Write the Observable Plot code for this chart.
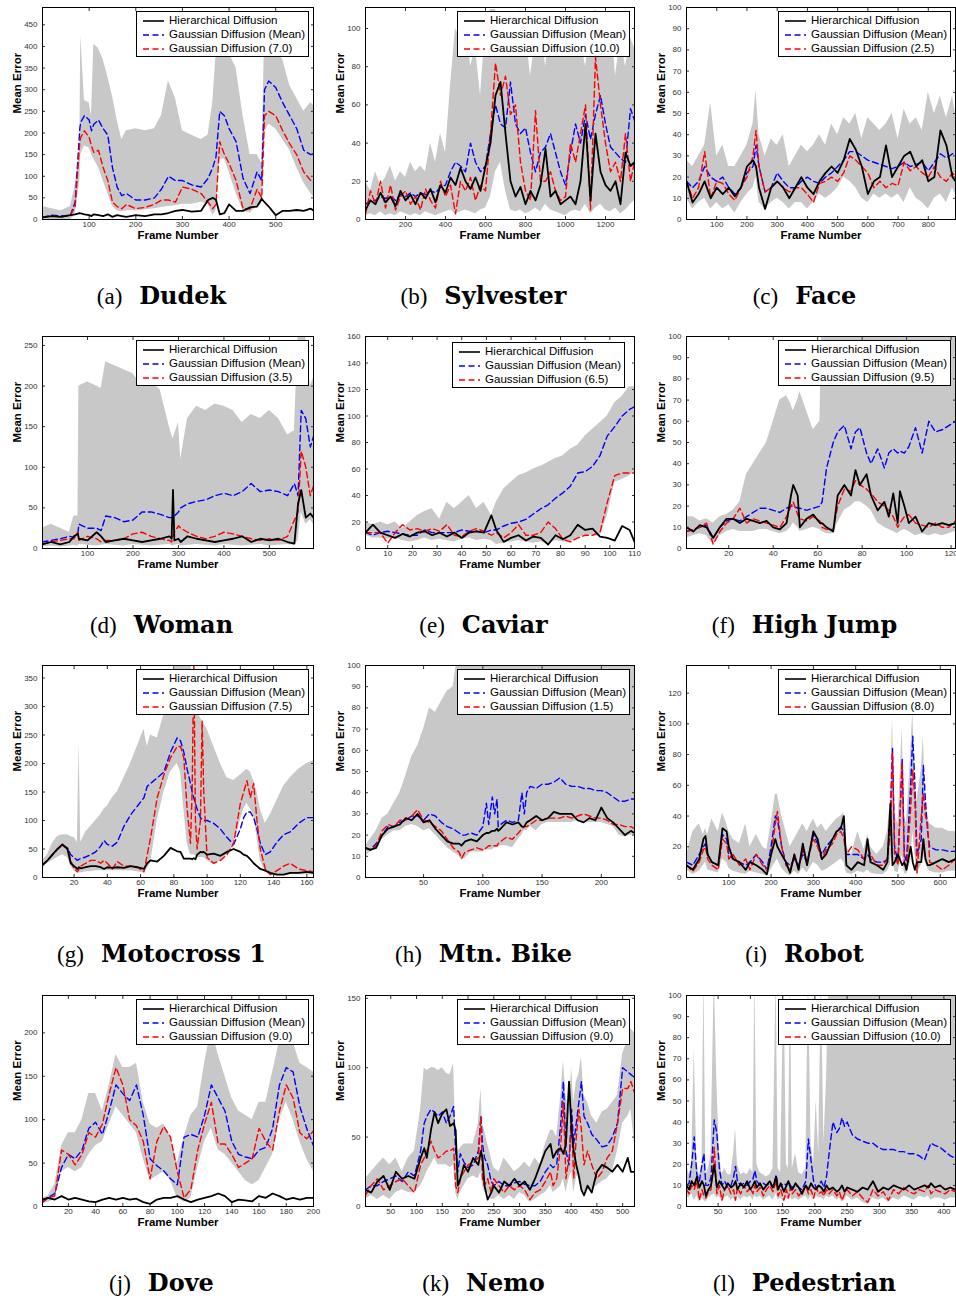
<!DOCTYPE html>
<html><head><meta charset="utf-8">
<script src="https://cdn.jsdelivr.net/npm/d3@7"></script>
<script src="https://cdn.jsdelivr.net/npm/@observablehq/plot@0.6"></script>
<style>
html,body{margin:0;padding:0;background:#fff;overflow:hidden;}
#root{position:relative;width:956px;height:1301px;overflow:hidden;background:#fff;}
.pan{position:absolute;}
.leg{position:absolute;box-sizing:border-box;border:1px solid #000;background:#fff;padding:1px 3px 1px 6px;font-family:"Liberation Sans",Arial,sans-serif;font-size:11.5px;line-height:14px;color:#000;white-space:nowrap;}
.leg svg{vertical-align:middle;margin-right:5px;}
.cap{position:absolute;transform:translate(-50%,-50%);white-space:nowrap;color:#000;}
.cap span{font-family:"Liberation Serif",serif;font-size:23px;}
.cap b{font-family:"DejaVu Serif",serif;font-size:24px;margin-left:17px;}
</style></head>
<body><div id="root"></div>
<script>
// ---------- (a) Dudek ----------
const dudekFrames=[0,20,40,60,70,80,82,90,100,105,110,120,130,140,150,160,170,180,200,220,240,255,270,285,300,320,340,355,365,372,380,390,400,415,430,445,460,470,476,485,500,515,530,545,560,575,590,598];
const dudekHigh=[30,25,20,30,80,160,425,275,270,240,405,395,370,330,285,230,185,205,210,205,210,240,320,280,205,195,185,195,270,380,400,395,385,350,240,150,150,130,410,400,390,370,310,280,250,270,255,240];
const dudekLow=[0,0,0,0,10,90,150,170,165,150,140,120,90,60,30,20,18,20,20,22,25,28,30,32,35,35,40,35,10,20,140,140,110,60,20,15,30,35,200,220,210,185,160,120,85,60,40,30];
const dudekHier=[5,8,6,10,12,15,14,12,10,8,12,10,8,12,6,10,8,6,10,8,12,12,15,20,22,18,20,45,50,45,12,15,35,20,20,28,30,48,40,30,10,20,20,22,20,25,15,10];
const dudekMean=[5,10,8,10,40,210,225,240,230,205,220,230,210,195,120,75,55,60,45,45,50,70,100,90,90,80,75,95,120,145,250,240,210,180,95,60,110,90,300,320,305,270,240,210,160,150,155,120];
const dudekBest=[5,8,6,10,30,180,190,205,190,170,155,160,120,90,40,30,25,35,25,28,35,45,45,40,75,70,60,40,25,35,180,150,130,90,25,25,70,50,240,250,240,205,175,150,110,90,80,40];
const dudekXTicks=[100,200,300,400,500];
const dudekYTicks=[0,50,100,150,200,250,300,350,400,450];

// ---------- (b) Sylvester ----------
const sylvesterFrames=[0,25,50,75,100,125,150,175,200,225,250,275,300,325,350,375,400,425,450,475,500,525,550,575,600,625,650,675,700,725,750,775,800,825,850,875,900,925,950,975,1000,1025,1050,1075,1100,1125,1150,1175,1200,1225,1250,1275,1300,1325,1345];
const sylvesterHier=[5,10,8,14,9,12,7,15,10,13,8,14,11,16,9,18,14,22,18,27,20,16,22,15,28,40,65,72,45,20,12,17,8,15,10,18,37,12,15,8,10,12,8,20,50,10,45,25,18,15,20,8,35,28,30];
const sylvesterMean=[8,10,10,12,11,12,10,13,12,14,12,14,13,15,14,17,18,25,30,28,25,40,30,25,28,45,60,50,48,72,50,45,48,35,25,35,38,45,35,25,18,35,50,40,55,42,55,65,50,38,35,32,30,58,52];
const sylvesterBest=[3,15,8,20,6,18,5,12,15,8,12,5,16,10,6,20,12,18,3,20,15,22,10,18,15,45,82,65,75,55,60,30,15,10,57,20,20,25,15,10,12,40,30,45,60,5,85,60,40,25,30,20,45,20,30];
const sylvesterHigh=[20,15,25,18,22,28,20,25,22,30,25,28,25,40,30,45,35,70,100,95,110,80,90,65,100,110,110,100,85,105,95,110,100,75,95,110,80,100,90,110,85,100,110,95,80,100,110,105,90,110,75,95,80,95,90];
const sylvesterLow=[2,3,2,4,2,3,2,4,3,2,3,2,4,3,2,3,4,5,3,4,5,4,3,5,6,12,25,30,15,5,4,5,3,4,6,4,8,5,4,3,2,4,5,4,8,3,6,8,5,4,6,3,5,8,10];
const sylvesterXTicks=[200,400,600,800,1000,1200];
const sylvesterYTicks=[0,20,40,60,80,100];

// ---------- (c) Face ----------
const faceFrames=[0,20,40,60,80,100,120,140,160,180,200,220,230,240,260,280,300,320,340,360,380,400,420,440,460,480,500,520,540,560,580,600,620,640,660,680,700,720,740,760,780,800,820,840,860,880,890];
const faceHier=[18,8,12,18,10,15,12,15,11,15,25,28,25,15,5,15,18,15,10,15,20,15,12,18,22,25,22,28,38,33,25,12,18,20,35,20,25,30,32,25,28,18,20,42,35,20,18];
const faceMean=[18,15,18,25,20,18,20,15,12,15,22,25,35,25,13,15,22,18,15,15,18,20,18,17,20,22,25,28,32,32,30,28,27,26,25,24,25,27,25,26,27,23,27,31,29,31,31];
const faceBest=[18,10,15,32,10,18,17,12,9,15,20,30,42,25,13,15,18,15,13,15,15,12,8,17,18,20,18,22,30,28,25,22,15,18,15,17,16,27,23,25,22,20,25,20,18,22,20];
const faceHigh=[28,25,30,35,55,30,35,25,25,30,35,45,61,40,30,38,35,40,25,30,35,32,35,40,35,45,40,48,45,50,38,48,45,42,45,50,38,52,45,48,42,60,50,58,48,58,50];
const faceLow=[10,5,8,10,5,8,5,7,3,8,12,15,20,8,5,8,10,8,5,8,8,5,8,12,10,12,15,20,18,15,10,8,12,10,12,10,12,8,15,10,8,5,10,12,8,15,12];
const faceXTicks=[100,200,300,400,500,600,700,800];
const faceYTicks=[0,10,20,30,40,50,60,70,80,90,100];

// ---------- (d) Woman ----------
const womanFrames=[0,20,40,60,70,79,81,100,120,130,140,160,180,200,220,240,260,280,285,288,291,300,305,320,340,360,380,400,420,440,460,480,500,520,540,555,563,570,580,590,597];
const womanHigh=[25,30,25,20,40,40,200,205,200,197,230,225,220,215,200,205,195,150,140,135,140,155,110,160,175,170,178,175,170,155,165,160,170,160,140,145,260,260,260,200,210];
const womanLow=[2,3,2,3,4,3,5,4,3,4,5,4,3,5,4,3,4,5,4,3,4,5,3,4,5,4,3,5,4,3,4,5,3,4,5,4,10,45,30,35,30];
const womanHier=[5,8,5,8,15,18,12,10,20,15,8,10,12,10,8,10,12,15,12,72,10,12,8,15,12,10,8,10,12,15,8,12,10,12,8,6,55,72,38,43,38];
const womanMean=[8,10,12,15,14,20,30,25,25,22,40,38,33,35,45,45,42,38,38,40,40,45,50,55,58,60,65,68,65,70,80,70,72,70,65,80,65,170,160,125,138];
const womanBest=[5,8,10,12,12,20,10,15,12,8,10,10,12,18,20,15,12,10,8,15,20,28,25,20,15,12,15,20,18,15,12,10,12,10,15,35,45,120,100,65,77];
const womanXTicks=[100,200,300,400,500];
const womanYTicks=[0,50,100,150,200,250];

// ---------- (e) Caviar ----------
const caviarFrames=[1,4,7,10,13,16,19,22,25,28,31,34,37,40,43,46,49,52,54,57,60,63,66,69,72,75,78,81,84,87,90,93,96,99,102,105,108,110];
const caviarHier=[12,18,12,10,8,11,9,12,13,10,12,9,12,8,12,13,12,25,14,5,8,10,6,9,8,3,10,7,10,18,14,15,9,8,6,17,14,5];
const caviarMean=[12,10,12,13,12,11,10,10,14,12,12,12,12,14,13,13,12,14,14,17,19,20,22,26,30,33,38,42,47,57,58,62,70,85,92,100,105,107];
const caviarBest=[12,12,12,4,12,18,14,15,13,15,13,18,10,9,13,15,13,10,12,8,12,18,10,10,12,20,15,7,5,8,10,10,12,35,55,57,57,57];
const caviarHigh=[20,18,20,18,20,15,20,25,28,30,22,35,30,35,40,30,35,25,35,45,50,55,57,60,62,65,68,70,75,78,85,90,95,100,110,115,122,122];
const caviarLow=[10,8,8,7,8,6,5,6,8,6,7,6,5,7,8,6,7,6,3,4,5,6,5,4,5,3,6,5,5,8,10,10,9,25,50,52,55,58];
const caviarXTicks=[10,20,30,40,50,60,70,80,90,100,110];
const caviarYTicks=[0,20,40,60,80,100,120,140,160];

// ---------- (f) High Jump ----------
const highJumpFrames=[1,4,7,10,13,16,19,22,25,28,31,34,37,40,43,46,48,49,51,52,55,58,61,62,64,67,69,72,75,77,79,82,84,87,90,92,94,96,97,99,101,104,107,110,113,116,119,122];
const highJumpHier=[10,8,11,10,5,10,14,14,12,14,13,12,13,10,9,12,25,30,25,10,14,16,12,12,10,8,25,30,25,37,30,35,25,18,22,15,26,12,27,20,12,15,8,12,11,12,11,12];
const highJumpMean=[8,9,10,11,5,10,13,14,13,15,17,19,19,18,17,19,20,20,19,19,18,19,20,22,38,50,55,58,47,55,57,45,40,47,38,45,47,45,46,45,48,57,45,60,55,56,58,60];
const highJumpBest=[8,9,10,12,2,8,12,14,19,12,14,13,12,11,10,15,20,22,16,14,13,15,13,10,9,9,20,28,27,32,30,28,26,22,20,18,15,10,12,15,16,12,11,10,12,10,10,13];
const highJumpHigh=[15,15,13,14,12,15,16,18,22,35,40,45,50,60,70,72,68,65,70,74,65,56,60,110,110,110,110,110,110,110,110,110,110,110,110,110,110,110,110,110,110,110,110,110,110,110,110,110];
const highJumpLow=[5,6,7,6,2,6,8,9,8,8,8,9,9,8,7,8,10,12,10,8,9,10,9,8,7,7,12,18,20,22,22,20,18,12,10,9,8,7,8,9,8,6,7,6,7,6,7,8];
const highJumpXTicks=[20,40,60,80,100,120];
const highJumpYTicks=[0,10,20,30,40,50,60,70,80,90,100];

// ---------- (g) Motocross 1 ----------
const motoFrames=[1,4,7,10,13,16,18,20,22,23,24,27,30,33,36,38,40,43,46,50,54,58,62,64,66,70,74,78,82,84,86,88,90,91,92,93,94,96,97,98,100,104,108,112,116,120,122,124,126,128,130,132,135,138,142,146,150,155,160,164];
const motoHier=[22,30,40,50,58,50,25,20,15,18,16,18,20,20,18,15,18,17,18,17,20,18,15,25,30,28,38,52,46,45,33,33,33,32,34,32,40,45,44,45,40,42,38,45,50,45,40,38,32,25,20,15,12,8,5,5,8,8,10,8];
const motoMean=[22,30,40,50,57,52,40,35,30,32,33,36,40,45,55,65,58,55,62,90,110,125,140,160,165,175,185,220,245,240,220,190,165,150,140,130,120,105,102,100,100,95,85,70,58,85,105,115,115,105,85,60,40,45,62,75,80,95,105,105];
const motoBest=[22,30,40,50,55,52,30,15,10,15,20,25,30,30,25,30,25,15,28,20,20,18,10,40,70,140,180,210,230,230,210,120,60,150,380,100,50,100,275,150,35,25,30,40,60,130,150,170,140,165,100,50,15,5,12,20,25,15,12,10];
const motoHigh=[30,40,60,72,75,75,72,70,62,235,62,80,90,100,110,120,125,140,150,175,200,230,260,230,250,245,285,330,380,380,380,380,380,350,330,300,290,280,275,270,260,230,200,175,170,180,185,190,185,170,150,120,95,110,135,160,175,190,200,205];
const motoLow=[18,25,30,35,40,35,20,12,8,8,8,10,10,12,12,12,12,12,12,12,12,10,8,15,25,100,150,185,200,185,120,60,40,40,40,38,35,35,35,35,30,22,30,40,55,100,120,130,120,110,70,30,10,4,4,5,5,5,5,5];
const motoXTicks=[20,40,60,80,100,120,140,160];
const motoYTicks=[0,50,100,150,200,250,300,350];

// ---------- (h) Mtn. Bike ----------
const bikeFrames=[1,5,10,15,20,25,30,35,40,45,50,55,60,65,70,75,80,82,85,90,95,100,103,105,108,110,112,113,115,120,125,130,133,135,137,140,145,150,155,160,165,170,175,180,185,190,195,200,205,210,215,220,225,228];
const bikeHier=[14,13,14,20,23,24,25,28,27,30,26,27,23,20,17,16,16,15,17,18,17,20,21,21,22,22,23,22,23,26,25,26,24,24,26,27,29,27,28,31,30,30,30,27,26,28,27,33,28,26,23,20,22,21];
const bikeMean=[14,13,16,20,24,24,26,27,29,29,27,30,29,26,24,23,21,20,20,21,20,24,35,25,38,30,37,24,25,27,26,27,40,30,40,43,42,44,44,45,47,44,43,43,42,42,41,41,40,38,36,36,37,37];
const bikeBest=[14,13,15,22,25,24,27,27,29,32,27,26,24,22,18,14,12,9,12,13,14,13,14,15,15,15,15,16,17,19,18,21,23,24,24,25,27,27,28,28,28,29,28,29,30,29,28,28,27,25,25,24,24,23];
const bikeHigh=[15,18,22,28,30,35,40,48,57,62,70,80,78,83,88,90,110,110,110,110,110,110,110,110,110,110,110,110,110,110,110,110,110,110,110,110,110,110,110,110,110,110,110,110,110,110,110,110,110,110,110,110,110,110];
const bikeLow=[10,12,14,18,20,22,22,24,25,24,22,23,20,17,14,12,10,8,9,12,12,12,13,13,13,14,14,14,15,15,14,18,20,22,22,24,22,25,26,26,26,26,26,27,26,26,26,26,25,24,20,19,20,20];
const bikeXTicks=[50,100,150,200];
const bikeYTicks=[0,10,20,30,40,50,60,70,80,90,100];

// ---------- (i) Robot ----------
const robotFrames=[0,15,30,40,45,50,60,75,85,95,100,110,125,140,150,165,180,190,200,210,215,225,235,245,255,265,275,285,300,310,320,330,345,355,365,372,378,390,405,420,428,435,450,465,475,482,487,492,500,510,515,520,530,535,540,545,555,560,565,570,575,590,605,620,636];
const robotHier=[8,5,12,25,27,15,10,8,32,30,20,12,10,5,10,8,5,2,15,25,20,15,10,3,15,5,22,8,30,25,12,15,25,30,32,40,8,5,10,8,25,10,8,5,10,48,8,10,15,8,10,5,20,10,5,10,10,25,12,8,8,10,12,10,12];
const robotMean=[10,8,15,20,22,15,10,8,28,25,15,12,10,8,10,15,10,5,20,40,38,20,10,8,12,8,15,10,28,22,15,20,25,30,33,30,15,15,15,12,15,12,10,10,12,40,84,20,10,77,15,10,60,92,60,15,25,73,50,30,20,18,18,17,17];
const robotBest=[8,4,10,18,20,12,8,5,25,22,12,15,8,12,5,15,8,5,15,35,43,20,8,5,15,5,18,10,25,20,12,18,22,28,30,25,15,20,18,12,20,15,8,8,12,30,82,15,8,75,10,5,45,70,50,3,40,55,40,35,10,8,5,8,12];
const robotHigh=[15,30,35,28,32,28,38,30,42,35,30,25,22,35,20,28,20,18,35,54,54,40,30,20,25,30,35,30,38,32,35,30,35,38,40,42,20,15,30,18,28,20,15,20,30,50,105,40,35,97,40,35,80,110,60,50,70,92,50,40,35,32,32,30,30];
const robotLow=[5,2,4,8,10,5,4,3,12,10,6,4,3,2,4,3,2,1,5,10,12,6,3,1,4,2,6,3,10,8,4,5,8,10,12,10,3,2,4,3,5,3,2,2,4,8,20,4,3,15,3,2,10,30,15,2,8,15,10,6,4,3,3,4,4];
const robotXTicks=[100,200,300,400,500,600];
const robotYTicks=[0,20,40,60,80,100,120];

// ---------- (j) Dove ----------
const doveFrames=[1,5,10,15,20,25,30,35,40,45,50,55,60,65,70,75,80,85,90,95,100,105,110,115,120,125,130,135,140,145,150,155,160,165,170,175,180,185,190,195,200];
const doveHier=[8,10,8,12,8,10,8,6,5,8,10,8,10,8,9,5,3,8,10,10,12,8,5,8,10,12,15,12,5,8,7,6,12,10,15,12,8,10,8,10,10];
const doveMean=[5,10,15,45,60,55,65,90,97,83,110,140,130,122,140,105,55,47,41,32,25,80,83,80,105,140,125,110,75,60,57,55,65,68,90,140,160,155,115,90,70];
const doveBest=[5,10,12,65,60,48,60,85,80,95,130,160,140,100,93,75,32,75,92,80,40,10,20,65,95,120,72,72,60,45,50,55,90,75,65,110,140,125,85,78,87];
const doveHigh=[10,12,25,70,85,85,100,130,130,110,140,175,160,160,165,120,95,90,95,80,50,80,105,115,165,205,175,150,125,110,105,100,120,120,155,190,215,190,165,160,155];
const doveLow=[3,5,8,40,45,40,45,60,70,75,95,115,105,95,85,55,30,35,40,30,10,5,10,45,75,90,65,60,50,40,30,25,30,45,60,100,120,100,75,55,40];
const doveXTicks=[20,40,60,80,100,120,140,160,180,200];
const doveYTicks=[0,50,100,150,200];

// ---------- (k) Nemo ----------
const nemoFrames=[1,12,24,36,48,60,72,84,96,108,115,120,128,135,142,150,158,165,172,176,180,185,192,200,210,220,225,228,232,238,245,250,260,270,280,290,300,310,320,330,340,350,360,365,372,380,385,390,396,401,405,410,415,420,425,432,440,450,460,470,480,490,500,510,516,523];
const nemoHier=[12,10,18,22,12,25,20,22,20,35,42,35,55,68,60,67,70,58,60,55,15,20,30,25,35,30,40,35,15,5,10,15,10,18,15,20,15,18,12,20,30,40,45,35,40,42,38,45,90,55,40,30,22,12,8,15,10,25,30,28,25,30,25,35,25,25];
const nemoMean=[12,15,15,18,20,22,18,25,22,40,60,65,70,68,65,68,60,65,72,40,25,38,32,28,30,40,65,45,35,30,18,15,18,15,15,17,18,16,15,15,18,25,30,28,30,60,90,40,30,70,45,60,75,90,65,60,52,48,43,44,50,60,100,97,95,93];
const nemoBest=[8,15,20,12,15,18,20,15,10,30,35,40,47,40,35,37,40,40,42,15,10,20,25,30,32,35,65,20,15,20,10,20,15,10,15,12,15,12,5,10,12,18,25,15,20,45,75,20,35,60,20,50,70,55,30,40,30,20,25,35,40,60,85,85,90,82];
const nemoHigh=[20,25,30,35,30,35,25,35,40,70,100,98,100,100,98,100,96,95,103,50,40,42,45,45,45,60,85,60,55,45,35,28,25,35,30,25,28,32,28,35,30,45,55,55,50,80,105,80,70,100,75,90,95,108,80,75,65,60,68,70,75,80,110,120,128,125];
const nemoLow=[5,8,5,8,5,10,12,10,10,15,20,25,30,35,30,30,30,28,30,10,5,10,15,20,22,20,25,15,10,10,5,5,8,5,8,5,10,8,3,5,8,10,15,10,12,15,20,10,20,25,10,20,25,15,10,12,12,15,18,20,25,40,60,65,70,45];
const nemoXTicks=[50,100,150,200,250,300,350,400,450,500];
const nemoYTicks=[0,50,100,150];

// ---------- (l) Pedestrian ----------
const pedFrames=[1,5,9,13,17,21,25,28,31,35,39,44,48,52,56,60,65,70,74,77,80,85,90,95,100,104,107,110,115,120,125,130,135,140,143,147,152,156,159,162,165,170,175,180,186,190,194,198,202,206,210,214,218,222,228,234,238,242,246,250,258,266,274,282,290,298,306,314,322,330,338,346,354,362,370,376,380,386,394,402,410,418];
const pedHier=[10,8,12,10,14,9,12,10,5,8,10,20,9,12,10,8,11,9,10,12,8,11,9,12,8,10,12,9,11,8,10,12,9,14,8,11,7,10,12,9,8,11,9,6,10,8,11,9,8,10,9,7,10,8,9,7,8,10,7,9,8,7,9,8,12,7,9,8,10,9,8,10,8,9,10,9,11,9,10,8,9,8];
const pedMean=[10,11,20,33,15,12,20,25,10,10,14,41,35,18,10,12,9,10,14,19,12,10,11,10,12,13,17,12,10,11,10,11,9,15,9,10,11,10,12,10,9,10,9,8,12,32,22,12,9,10,12,9,14,25,40,35,37,42,38,40,34,32,31,30,30,28,27,27,27,26,26,25,25,24,22,27,30,29,28,26,24,23];
const pedBest=[8,6,10,8,12,3,8,5,4,7,8,28,6,10,3,8,10,6,8,3,9,6,10,7,9,6,10,7,9,5,8,10,7,12,5,8,3,8,4,9,6,8,5,7,10,6,8,4,9,6,7,5,8,6,8,5,7,3,6,8,5,7,4,2,8,5,7,3,8,6,9,7,6,8,7,10,6,8,7,6,8,7];
const pedHigh=[20,15,20,75,20,15,18,110,15,18,25,110,60,25,15,18,15,15,25,37,20,15,16,15,18,16,110,20,16,15,14,15,18,110,18,16,110,20,18,110,18,25,16,15,18,110,30,20,50,25,110,30,60,110,110,110,110,110,110,110,110,110,110,110,110,110,110,110,110,110,110,110,110,110,110,110,110,110,110,110,110,110];
const pedLow=[5,4,6,3,5,2,4,3,2,4,5,6,4,5,2,4,5,3,4,2,5,3,5,4,5,3,5,4,5,3,4,5,3,6,3,4,2,4,3,5,3,4,3,4,5,3,5,3,5,4,4,3,5,4,5,3,4,2,3,5,3,4,2,1,4,3,4,2,4,3,5,4,3,5,4,5,3,4,4,3,4,4];
const pedXTicks=[50,100,150,200,250,300,350,400];
const pedYTicks=[0,10,20,30,40,50,60,70,80,90,100];

const panels=[
 {key:"a",name:"Dudek",param:"7.0",frames:dudekFrames,hier:dudekHier,mean:dudekMean,best:dudekBest,low:dudekLow,high:dudekHigh,xDomain:[0,581],yDomain:[0,490],xTicks:dudekXTicks,yTicks:dudekYTicks},
 {key:"b",name:"Sylvester",param:"10.0",frames:sylvesterFrames,hier:sylvesterHier,mean:sylvesterMean,best:sylvesterBest,low:sylvesterLow,high:sylvesterHigh,xDomain:[0,1345],yDomain:[0,111],xTicks:sylvesterXTicks,yTicks:sylvesterYTicks},
 {key:"c",name:"Face",param:"2.5",frames:faceFrames,hier:faceHier,mean:faceMean,best:faceBest,low:faceLow,high:faceHigh,xDomain:[0,890],yDomain:[0,100],xTicks:faceXTicks,yTicks:faceYTicks},
 {key:"d",name:"Woman",param:"3.5",frames:womanFrames,hier:womanHier,mean:womanMean,best:womanBest,low:womanLow,high:womanHigh,xDomain:[1,597],yDomain:[0,261],xTicks:womanXTicks,yTicks:womanYTicks},
 {key:"e",name:"Caviar",param:"6.5",frames:caviarFrames,hier:caviarHier,mean:caviarMean,best:caviarBest,low:caviarLow,high:caviarHigh,xDomain:[1,110],yDomain:[0,160],xTicks:caviarXTicks,yTicks:caviarYTicks,legInset:[6,9]},
 {key:"f",name:"High Jump",param:"9.5",frames:highJumpFrames,hier:highJumpHier,mean:highJumpMean,best:highJumpBest,low:highJumpLow,high:highJumpHigh,xDomain:[1,122],yDomain:[0,100],xTicks:highJumpXTicks,yTicks:highJumpYTicks},
 {key:"g",name:"Motocross 1",param:"7.5",frames:motoFrames,hier:motoHier,mean:motoMean,best:motoBest,low:motoLow,high:motoHigh,xDomain:[1,164],yDomain:[0,372],xTicks:motoXTicks,yTicks:motoYTicks},
 {key:"h",name:"Mtn. Bike",param:"1.5",frames:bikeFrames,hier:bikeHier,mean:bikeMean,best:bikeBest,low:bikeLow,high:bikeHigh,xDomain:[1,228],yDomain:[0,100],xTicks:bikeXTicks,yTicks:bikeYTicks},
 {key:"i",name:"Robot",param:"8.0",frames:robotFrames,hier:robotHier,mean:robotMean,best:robotBest,low:robotLow,high:robotHigh,xDomain:[0,636],yDomain:[0,138],xTicks:robotXTicks,yTicks:robotYTicks},
 {key:"j",name:"Dove",param:"9.0",frames:doveFrames,hier:doveHier,mean:doveMean,best:doveBest,low:doveLow,high:doveHigh,xDomain:[1,200],yDomain:[0,243],xTicks:doveXTicks,yTicks:doveYTicks},
 {key:"k",name:"Nemo",param:"9.0",frames:nemoFrames,hier:nemoHier,mean:nemoMean,best:nemoBest,low:nemoLow,high:nemoHigh,xDomain:[1,523],yDomain:[0,152],xTicks:nemoXTicks,yTicks:nemoYTicks},
 {key:"l",name:"Pedestrian",param:"10.0",frames:pedFrames,hier:pedHier,mean:pedMean,best:pedBest,low:pedLow,high:pedHigh,xDomain:[1,418],yDomain:[0,100],xTicks:pedXTicks,yTicks:pedYTicks}
];

const cols=[[42,313],[365,634],[686,955]];
const rows=[[7,219],[336,548],[665,877],[995,1206]];
const ML=45,MR=1,MT=4,MB=30;
const GREY="#c8c8c8",BLUE="#0000ff",RED="#ff0000",DASH="6,3.5";
const root=document.getElementById("root");

function sample(color,dash,w){
  return `<svg width="21" height="6"><line x1="0" y1="3" x2="21" y2="3" stroke="${color}" stroke-width="${w}" ${dash?`stroke-dasharray="${dash}"`:""}/></svg>`;
}

panels.forEach((p,i)=>{
  const [fl,fr]=cols[i%3],[ft,fb]=rows[Math.floor(i/3)];
  const data=p.frames.map((f,k)=>({f,hi:p.high[k],lo:p.low[k],h:p.hier[k],m:p.mean[k],b:p.best[k]}));
  const svg=Plot.plot({
    width:fr-fl+ML+MR,height:fb-ft+MT+MB,
    marginLeft:ML,marginRight:MR,marginTop:MT,marginBottom:MB,
    x:{domain:p.xDomain},y:{domain:p.yDomain},
    style:{fontFamily:"'Liberation Sans',Arial,sans-serif",fontSize:"8px",color:"#333",background:"transparent",overflow:"visible"},
    marks:[
      Plot.areaY(data,{x:"f",y1:"lo",y2:"hi",fill:GREY,clip:true}),
      Plot.lineY(data,{x:"f",y:"m",stroke:BLUE,strokeWidth:1.4,strokeDasharray:DASH,clip:true}),
      Plot.lineY(data,{x:"f",y:"b",stroke:RED,strokeWidth:1.4,strokeDasharray:DASH,clip:true}),
      Plot.lineY(data,{x:"f",y:"h",stroke:"#000",strokeWidth:1.8,clip:true}),
      Plot.axisX({ticks:p.xTicks,tickSize:-3,tickPadding:5,tickFormat:d=>String(d),label:null}),
      Plot.axisX({anchor:"top",ticks:p.xTicks,tickSize:-3,tickFormat:()=>"",label:null}),
      Plot.axisY({ticks:p.yTicks,tickSize:-3,tickPadding:8,tickFormat:d=>String(d),label:null}),
      Plot.axisY({anchor:"right",ticks:p.yTicks,tickSize:-3,tickFormat:()=>"",label:null}),
      Plot.frame({stroke:"#000"}),
      Plot.text(["Mean Error"],{text:d=>d,frameAnchor:"left",dx:-25,rotate:-90,fontWeight:"bold",fontSize:11.5,fill:"#000"}),
      Plot.text(["Frame Number"],{text:d=>d,frameAnchor:"bottom",dy:19,fontWeight:"bold",fontSize:11.5,fill:"#000"})
    ]
  });
  const wrap=document.createElement("div");
  wrap.className="pan";
  wrap.style.left=(fl-ML)+"px"; wrap.style.top=(ft-MT)+"px";
  wrap.appendChild(svg);
  root.appendChild(wrap);

  const [it,ir]=p.legInset||[4,4];
  const leg=document.createElement("div");
  leg.className="leg";
  leg.style.right=(956-(fr-ir))+"px"; leg.style.top=(ft+it)+"px";
  leg.innerHTML=`<div>${sample("#000",null,1.6)}Hierarchical Diffusion</div>`+
    `<div>${sample(BLUE,DASH,1.4)}Gaussian Diffusion (Mean)</div>`+
    `<div>${sample(RED,DASH,1.4)}Gaussian Diffusion (${p.param})</div>`;
  root.appendChild(leg);

  const cap=document.createElement("div");
  cap.className="cap";
  cap.style.left=((fl-32+fr)/2)+"px"; cap.style.top=(fb+76)+"px";
  cap.innerHTML=`<span>(${p.key})</span><b>${p.name}</b>`;
  root.appendChild(cap);
});
</script></body></html>
